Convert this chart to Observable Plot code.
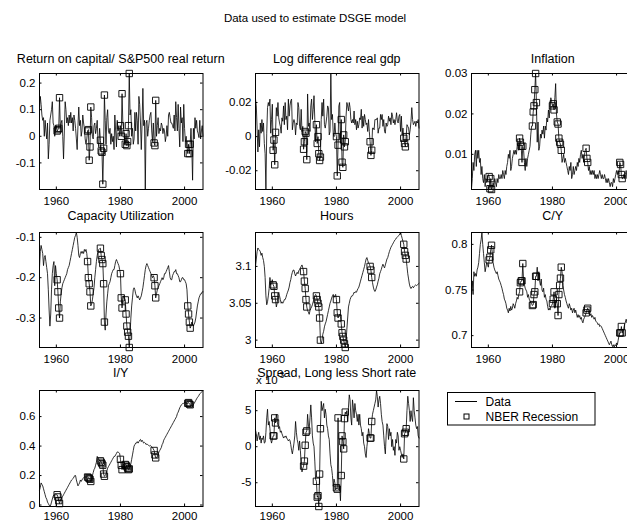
<!DOCTYPE html>
<html>
<head>
<meta charset="utf-8">
<script src="https://cdn.jsdelivr.net/npm/d3@7"></script>
<script src="https://cdn.jsdelivr.net/npm/@observablehq/plot@0.6"></script>
<style>
  html, body { margin: 0; padding: 0; background: #fff; }
  #fig { position: relative; width: 627px; height: 521px; overflow: hidden;
         font-family: "Liberation Sans", Arial, sans-serif; }
  #fig svg { position: absolute; }
</style>
</head>
<body>
<div id="fig"></div>
<script>
// Quarterly observations, first value is 1954Q4, last is 2005Q4.
const START = 1954.75;

// Return on capital / S&P500 real return
const ret = [
  0.10,
  0.15, 0.12, 0.08, 0.06,        // 1955
  0.07, 0.00, 0.06, 0.02,        // 1956
  -0.01, 0.05, -0.085, -0.03,    // 1957
  0.06, 0.08, 0.10, 0.13,        // 1958
  0.05, 0.04, 0.00, 0.02,        // 1959
  0.04, 0.02, 0.025, 0.03,       // 1960
  0.145, 0.03, 0.05, 0.06,       // 1961
  0.00, -0.085, 0.02, 0.13,      // 1962
  0.10, 0.05, 0.07, 0.04,        // 1963
  0.08, 0.05, 0.09, 0.05,        // 1964
  0.07, 0.02, 0.08, 0.06,        // 1965
  0.03, -0.01, -0.05, 0.04,      // 1966
  0.11, 0.04, 0.06, 0.00,        // 1967
  0.02, 0.08, 0.05, 0.03,        // 1968
  -0.01, -0.03, -0.01, 0.02,     // 1969
  0.025, -0.09, -0.04, 0.11,     // 1970
  0.07, 0.00, -0.01, 0.04,       // 1971
  0.05, 0.01, 0.03, 0.06,        // 1972
  -0.02, -0.04, 0.03, -0.015,    // 1973
  -0.055, -0.06, -0.18, -0.045,  // 1974
  0.155, 0.06, -0.03, 0.07,      // 1975
  0.10, 0.02, 0.01, 0.03,        // 1976
  -0.03, 0.01, -0.02, 0.00,      // 1977
  -0.05, 0.08, 0.02, -0.04,      // 1978
  0.06, 0.02, 0.04, 0.00,        // 1979
  0.04, 0.00, 0.16, 0.05,        // 1980
  0.03, 0.00, -0.03, 0.01,       // 1981
  -0.035, -0.02, 0.04, 0.236,    // 1982
  0.08, 0.10, 0.00, 0.03,        // 1983
  -0.03, -0.01, 0.09, 0.02,      // 1984
  0.09, 0.06, -0.03, 0.15,       // 1985
  0.12, 0.05, -0.05, 0.05,       // 1986
  0.18, 0.04, 0.06, -0.20,       // 1987
  0.05, 0.06, 0.00, 0.03,        // 1988
  0.06, 0.08, 0.09, 0.02,        // 1989
  -0.02, 0.05, -0.025, -0.035,   // 1990
  0.135, 0.00, 0.04, 0.07,       // 1991
  0.01, 0.03, 0.02, 0.05,        // 1992
  0.04, 0.01, 0.03, 0.02,        // 1993
  -0.02, 0.00, 0.04, 0.00,       // 1994
  0.08, 0.09, 0.07, 0.05,        // 1995
  0.05, 0.04, 0.03, 0.08,        // 1996
  0.02, 0.13, 0.07, 0.02,        // 1997
  0.12, 0.03, -0.04, 0.11,       // 1998
  0.05, 0.07, -0.02, 0.12,       // 1999
  0.03, -0.02, 0.00, -0.04,      // 2000
  -0.065, -0.03, -0.065, -0.03,  // 2001
  0.03, -0.04, -0.165, 0.03,     // 2002
  -0.01, 0.07, 0.03, 0.06,       // 2003
  0.02, 0.01, -0.005, 0.06,      // 2004
  -0.01, 0.02, 0.04, 0.00        // 2005
];

// Log difference of real GDP
const gdp = [
  0.022,
  0.018, 0.005, -0.009, 0.004,     // 1955
  -0.006, 0.008, 0.002, 0.010,     // 1956
  0.003, 0.008, -0.004, -0.010,    // 1957
  -0.031, 0.002, 0.017, 0.020,     // 1958
  0.018, 0.022, 0.002, 0.010,      // 1959
  0.019, -0.008, -0.002, -0.0165,  // 1960
  0.0025, 0.017, 0.012, 0.020,     // 1961
  0.011, 0.008, 0.006, 0.002,      // 1962
  0.011, 0.009, 0.018, 0.007,      // 1963
  0.020, 0.010, 0.012, 0.004,      // 1964
  0.022, 0.012, 0.018, 0.021,      // 1965
  0.022, 0.004, 0.008, 0.010,      // 1966
  0.008, 0.001, 0.008, 0.007,      // 1967
  0.020, 0.017, 0.006, 0.004,      // 1968
  0.016, 0.003, 0.006, -0.0074,    // 1969
  -0.003, 0.003, 0.002, -0.0135,   // 1970
  0.025, 0.006, 0.008, 0.003,      // 1971
  0.018, 0.022, 0.010, 0.016,      // 1972
  0.024, 0.010, -0.003, 0.007,     // 1973
  -0.004, 0.000, -0.010, -0.014,   // 1974
  -0.012, 0.010, 0.020, 0.012,     // 1975
  0.022, 0.007, 0.005, 0.008,      // 1976
  0.012, 0.018, 0.017, 0.001,      // 1977
  0.003, 0.037, 0.010, 0.013,      // 1978
  0.002, 0.000, 0.008, 0.002,      // 1979
  0.000, -0.023, -0.005, 0.018,    // 1980
  0.020, -0.004, 0.010, -0.015,    // 1981
  -0.018, 0.001, -0.006, -0.003,   // 1982
  0.012, 0.020, 0.018, 0.015,      // 1983
  0.020, 0.017, 0.010, 0.008,      // 1984
  0.010, 0.008, 0.015, 0.007,      // 1985
  0.010, 0.004, 0.009, 0.005,      // 1986
  0.007, 0.011, 0.010, 0.016,      // 1987
  0.005, 0.012, 0.006, 0.013,      // 1988
  0.010, 0.007, 0.008, 0.003,      // 1989
  0.010, 0.003, -0.003, -0.011,    // 1990
  -0.008, 0.005, 0.005, 0.004,     // 1991
  0.010, 0.010, 0.010, 0.011,      // 1992
  0.002, 0.005, 0.005, 0.013,      // 1993
  0.010, 0.013, 0.006, 0.010,      // 1994
  0.003, 0.002, 0.008, 0.006,      // 1995
  0.007, 0.012, 0.009, 0.011,      // 1996
  0.007, 0.014, 0.012, 0.008,      // 1997
  0.010, 0.007, 0.010, 0.014,      // 1998
  0.009, 0.008, 0.012, 0.013,      // 1999
  0.003, 0.012, 0.001, 0.005,      // 2000
  -0.001, -0.004, -0.006, 0.000,   // 2001
  0.007, 0.006, 0.005, 0.001,      // 2002
  0.004, 0.009, 0.017, 0.010,      // 2003
  0.007, 0.008, 0.009, 0.006,      // 2004
  0.009, 0.008, 0.010, 0.005       // 2005
];

// Inflation (quarterly)
const infl = [
  0.0015,
  0.004, 0.008, 0.006, 0.010,      // 1955
  0.011, 0.007, 0.011, 0.009,      // 1956
  0.011, 0.008, 0.009, 0.005,      // 1957
  0.007, 0.004, 0.003, 0.005,      // 1958
  0.002, 0.004, 0.003, 0.004,      // 1959
  0.005, 0.0045, 0.0015, 0.004,    // 1960
  0.0013, 0.002, 0.003, 0.002,     // 1961
  0.004, 0.003, 0.002, 0.004,      // 1962
  0.003, 0.005, 0.004, 0.004,      // 1963
  0.005, 0.004, 0.006, 0.005,      // 1964
  0.004, 0.006, 0.005, 0.007,      // 1965
  0.008, 0.010, 0.009, 0.011,      // 1966
  0.006, 0.007, 0.009, 0.010,      // 1967
  0.011, 0.010, 0.011, 0.010,      // 1968
  0.012, 0.013, 0.011, 0.014,      // 1969
  0.013, 0.012, 0.008, 0.012,      // 1970
  0.011, 0.008, 0.006, 0.009,      // 1971
  0.007, 0.009, 0.010, 0.011,      // 1972
  0.012, 0.015, 0.017, 0.017,      // 1973
  0.0205, 0.022, 0.026, 0.030,     // 1974
  0.0228, 0.013, 0.018, 0.011,     // 1975
  0.012, 0.015, 0.014, 0.016,      // 1976
  0.015, 0.017, 0.014, 0.017,      // 1977
  0.016, 0.019, 0.018, 0.021,      // 1978
  0.019, 0.022, 0.024, 0.023,      // 1979
  0.022, 0.0225, 0.021, 0.024,     // 1980
  0.0275, 0.020, 0.018, 0.0175,    // 1981
  0.014, 0.013, 0.0125, 0.011,     // 1982
  0.008, 0.009, 0.010, 0.008,      // 1983
  0.009, 0.008, 0.007, 0.006,      // 1984
  0.005, 0.007, 0.006, 0.008,      // 1985
  0.004, 0.005, 0.007, 0.005,      // 1986
  0.006, 0.007, 0.006, 0.008,      // 1987
  0.007, 0.009, 0.008, 0.010,      // 1988
  0.011, 0.009, 0.010, 0.008,      // 1989
  0.010, 0.011, 0.0115, 0.009,     // 1990
  0.008, 0.006, 0.007, 0.005,      // 1991
  0.006, 0.005, 0.006, 0.005,      // 1992
  0.006, 0.004, 0.005, 0.004,      // 1993
  0.005, 0.004, 0.005, 0.006,      // 1994
  0.005, 0.004, 0.005, 0.004,      // 1995
  0.004, 0.005, 0.004, 0.003,      // 1996
  0.004, 0.003, 0.004, 0.003,      // 1997
  0.002, 0.003, 0.003, 0.002,      // 1998
  0.004, 0.003, 0.004, 0.005,      // 1999
  0.006, 0.005, 0.006, 0.005,      // 2000
  0.008, 0.0075, 0.005, 0.004,     // 2001
  0.004, 0.005, 0.004, 0.005,      // 2002
  0.006, 0.004, 0.005, 0.004,      // 2003
  0.006, 0.007, 0.005, 0.006,      // 2004
  0.007, 0.006, 0.008, 0.005       // 2005
];

// Capacity utilization (log)
const capu = [
  -0.175,
  -0.135, -0.12, -0.13, -0.14,     // 1955
  -0.17, -0.15, -0.145, -0.16,     // 1956
  -0.175, -0.19, -0.23, -0.28,     // 1957
  -0.32, -0.29, -0.23, -0.19,      // 1958
  -0.17, -0.16, -0.22, -0.17,      // 1959
  -0.19, -0.205, -0.235, -0.275,   // 1960
  -0.30, -0.26, -0.24, -0.225,     // 1961
  -0.215, -0.21, -0.205, -0.20,    // 1962
  -0.195, -0.19, -0.18, -0.175,    // 1963
  -0.17, -0.16, -0.15, -0.14,      // 1964
  -0.13, -0.12, -0.11, -0.10,      // 1965
  -0.095, -0.088, -0.10, -0.12,    // 1966
  -0.145, -0.15, -0.14, -0.135,    // 1967
  -0.14, -0.135, -0.14, -0.13,     // 1968
  -0.135, -0.13, -0.14, -0.16,     // 1969
  -0.20, -0.215, -0.235, -0.27,    // 1970
  -0.265, -0.255, -0.24, -0.225,   // 1971
  -0.20, -0.18, -0.16, -0.145,     // 1972
  -0.135, -0.13, -0.128, -0.127,   // 1973
  -0.145, -0.155, -0.165, -0.215,  // 1974
  -0.31, -0.33, -0.29, -0.26,      // 1975
  -0.24, -0.22, -0.215, -0.21,     // 1976
  -0.20, -0.19, -0.185, -0.18,     // 1977
  -0.18, -0.17, -0.16, -0.155,     // 1978
  -0.16, -0.165, -0.17, -0.18,     // 1979
  -0.19, -0.25, -0.275, -0.255,    // 1980
  -0.245, -0.25, -0.255, -0.29,    // 1981
  -0.32, -0.335, -0.345, -0.373,   // 1982
  -0.34, -0.30, -0.27, -0.25,      // 1983
  -0.23, -0.225, -0.23, -0.24,     // 1984
  -0.245, -0.25, -0.245, -0.25,    // 1985
  -0.255, -0.25, -0.245, -0.235,   // 1986
  -0.225, -0.21, -0.195, -0.18,    // 1987
  -0.17, -0.165, -0.17, -0.175,    // 1988
  -0.18, -0.185, -0.19, -0.195,    // 1989
  -0.20, -0.195, -0.20, -0.22,     // 1990
  -0.25, -0.24, -0.23, -0.225,     // 1991
  -0.22, -0.215, -0.21, -0.205,    // 1992
  -0.20, -0.205, -0.20, -0.19,     // 1993
  -0.19, -0.185, -0.18, -0.175,    // 1994
  -0.17, -0.185, -0.20, -0.205,    // 1995
  -0.205, -0.195, -0.19, -0.185,   // 1996
  -0.185, -0.18, -0.19, -0.19,     // 1997
  -0.195, -0.20, -0.21, -0.21,     // 1998
  -0.205, -0.20, -0.20, -0.205,    // 1999
  -0.205, -0.21, -0.215, -0.23,    // 2000
  -0.27, -0.29, -0.31, -0.325,     // 2001
  -0.32, -0.31, -0.315, -0.32,     // 2002
  -0.315, -0.31, -0.30, -0.285,    // 2003
  -0.27, -0.26, -0.25, -0.245,     // 2004
  -0.24, -0.24, -0.235, -0.235     // 2005
];

// Hours (log)
const hours = [
  3.100,
  3.110, 3.120, 3.125, 3.123,      // 1955
  3.122, 3.120, 3.115, 3.118,      // 1956
  3.112, 3.108, 3.100, 3.085,      // 1957
  3.060, 3.048, 3.052, 3.060,      // 1958
  3.070, 3.085, 3.075, 3.078,      // 1959
  3.082, 3.075, 3.073, 3.060,      // 1960
  3.055, 3.045, 3.050, 3.058,      // 1961
  3.065, 3.060, 3.055, 3.050,      // 1962
  3.052, 3.050, 3.052, 3.055,      // 1963
  3.055, 3.058, 3.062, 3.065,      // 1964
  3.068, 3.072, 3.078, 3.082,      // 1965
  3.088, 3.092, 3.095, 3.095,      // 1966
  3.090, 3.087, 3.090, 3.092,      // 1967
  3.090, 3.094, 3.096, 3.098,      // 1968
  3.100, 3.102, 3.098, 3.093,      // 1969
  3.080, 3.070, 3.055, 3.045,      // 1970
  3.040, 3.038, 3.035, 3.040,      // 1971
  3.043, 3.045, 3.048, 3.052,      // 1972
  3.055, 3.060, 3.062, 3.060,      // 1973
  3.055, 3.050, 3.045, 3.030,      // 1974
  3.000, 2.995, 3.000, 3.008,      // 1975
  3.012, 3.018, 3.022, 3.025,      // 1976
  3.030, 3.035, 3.040, 3.045,      // 1977
  3.050, 3.053, 3.057, 3.060,      // 1978
  3.062, 3.058, 3.060, 3.062,      // 1979
  3.055, 3.037, 3.030, 3.033,      // 1980
  3.035, 3.032, 3.022, 3.010,      // 1981
  3.005, 3.000, 2.995, 2.990,      // 1982
  2.998, 3.015, 3.030, 3.045,      // 1983
  3.050, 3.055, 3.058, 3.060,      // 1984
  3.060, 3.062, 3.065, 3.064,      // 1985
  3.066, 3.065, 3.068, 3.070,      // 1986
  3.072, 3.076, 3.080, 3.084,      // 1987
  3.088, 3.092, 3.096, 3.100,      // 1988
  3.105, 3.110, 3.112, 3.108,      // 1989
  3.105, 3.103, 3.100, 3.095,      // 1990
  3.085, 3.078, 3.072, 3.068,      // 1991
  3.066, 3.068, 3.072, 3.075,      // 1992
  3.080, 3.084, 3.090, 3.093,      // 1993
  3.096, 3.100, 3.103, 3.100,      // 1994
  3.098, 3.102, 3.106, 3.110,      // 1995
  3.112, 3.116, 3.120, 3.123,      // 1996
  3.126, 3.128, 3.130, 3.132,      // 1997
  3.134, 3.136, 3.137, 3.139,      // 1998
  3.140, 3.141, 3.142, 3.144,      // 1999
  3.146, 3.142, 3.138, 3.134,      // 2000
  3.130, 3.120, 3.115, 3.110,      // 2001
  3.100, 3.090, 3.083, 3.076,      // 2002
  3.072, 3.070, 3.072, 3.073,      // 2003
  3.071, 3.073, 3.074, 3.075,      // 2004
  3.074, 3.075, 3.076, 3.077       // 2005
];

// Consumption / output
const cy = [
  0.745,
  0.760, 0.745, 0.770, 0.765,      // 1955
  0.768, 0.765, 0.772, 0.775,      // 1956
  0.780, 0.790, 0.800, 0.805,      // 1957
  0.813, 0.800, 0.790, 0.780,      // 1958
  0.770, 0.775, 0.780, 0.778,      // 1959
  0.775, 0.783, 0.786, 0.794,      // 1960
  0.799, 0.790, 0.780, 0.775,      // 1961
  0.772, 0.770, 0.768, 0.770,      // 1962
  0.766, 0.762, 0.760, 0.758,      // 1963
  0.755, 0.752, 0.748, 0.745,      // 1964
  0.740, 0.738, 0.735, 0.730,      // 1965
  0.728, 0.725, 0.730, 0.727,      // 1966
  0.732, 0.728, 0.730, 0.735,      // 1967
  0.733, 0.730, 0.735, 0.738,      // 1968
  0.742, 0.740, 0.745, 0.748,      // 1969
  0.758, 0.760, 0.760, 0.779,      // 1970
  0.760, 0.756, 0.752, 0.750,      // 1971
  0.748, 0.742, 0.745, 0.740,      // 1972
  0.738, 0.736, 0.735, 0.733,      // 1973
  0.734, 0.745, 0.748, 0.765,      // 1974
  0.765, 0.775, 0.760, 0.770,      // 1975
  0.760, 0.755, 0.762, 0.750,      // 1976
  0.748, 0.752, 0.742, 0.745,      // 1977
  0.740, 0.738, 0.732, 0.728,      // 1978
  0.730, 0.728, 0.732, 0.733,      // 1979
  0.735, 0.740, 0.748, 0.730,      // 1980
  0.735, 0.740, 0.735, 0.722,      // 1981
  0.745, 0.755, 0.763, 0.775,      // 1982
  0.770, 0.755, 0.750, 0.745,      // 1983
  0.742, 0.738, 0.735, 0.732,      // 1984
  0.730, 0.735, 0.732, 0.728,      // 1985
  0.730, 0.725, 0.728, 0.730,      // 1986
  0.725, 0.728, 0.724, 0.720,      // 1987
  0.723, 0.720, 0.722, 0.718,      // 1988
  0.720, 0.716, 0.714, 0.718,      // 1989
  0.720, 0.722, 0.725, 0.728,      // 1990
  0.730, 0.726, 0.724, 0.722,      // 1991
  0.724, 0.720, 0.722, 0.720,      // 1992
  0.718, 0.720, 0.716, 0.715,      // 1993
  0.714, 0.712, 0.713, 0.710,      // 1994
  0.711, 0.710, 0.708, 0.706,      // 1995
  0.704, 0.702, 0.700, 0.698,      // 1996
  0.696, 0.694, 0.692, 0.690,      // 1997
  0.692, 0.694, 0.690, 0.688,      // 1998
  0.690, 0.687, 0.690, 0.689,      // 1999
  0.692, 0.690, 0.695, 0.700,      // 2000
  0.703, 0.703, 0.710, 0.703,      // 2001
  0.706, 0.708, 0.712, 0.715,      // 2002
  0.718, 0.714, 0.716, 0.720,      // 2003
  0.722, 0.720, 0.724, 0.726,      // 2004
  0.725, 0.728, 0.726, 0.730       // 2005
];

// Investment / output
const iy = [
  0.10,
  0.12, 0.15, 0.14, 0.13,          // 1955
  0.11, 0.09, 0.07, 0.05,          // 1956
  0.04, 0.02, 0.01, 0.00,          // 1957
  -0.01, 0.00, 0.02, 0.04,         // 1958
  0.06, 0.07, 0.065, 0.07,         // 1959
  0.07, 0.07, 0.055, 0.03,         // 1960
  0.01, 0.03, 0.04, 0.05,          // 1961
  0.06, 0.07, 0.08, 0.09,          // 1962
  0.10, 0.11, 0.12, 0.13,          // 1963
  0.14, 0.15, 0.16, 0.17,          // 1964
  0.175, 0.18, 0.19, 0.20,         // 1965
  0.20, 0.17, 0.15, 0.13,          // 1966
  0.14, 0.15, 0.17, 0.16,          // 1967
  0.17, 0.18, 0.185, 0.19,         // 1968
  0.19, 0.19, 0.19, 0.19,          // 1969
  0.185, 0.18, 0.175, 0.16,        // 1970
  0.17, 0.20, 0.22, 0.24,          // 1971
  0.25, 0.27, 0.29, 0.33,          // 1972
  0.32, 0.31, 0.30, 0.30,          // 1973
  0.29, 0.28, 0.27, 0.21,          // 1974
  0.195, 0.20, 0.21, 0.23,         // 1975
  0.25, 0.26, 0.27, 0.28,          // 1976
  0.29, 0.30, 0.31, 0.32,          // 1977
  0.33, 0.33, 0.34, 0.35,          // 1978
  0.36, 0.36, 0.355, 0.35,         // 1979
  0.31, 0.27, 0.24, 0.26,          // 1980
  0.28, 0.28, 0.275, 0.27,         // 1981
  0.26, 0.25, 0.24, 0.245,         // 1982
  0.26, 0.28, 0.31, 0.34,          // 1983
  0.37, 0.40, 0.41, 0.42,          // 1984
  0.42, 0.43, 0.42, 0.43,          // 1985
  0.44, 0.445, 0.43, 0.44,         // 1986
  0.43, 0.42, 0.425, 0.42,         // 1987
  0.41, 0.415, 0.41, 0.405,        // 1988
  0.40, 0.405, 0.40, 0.395,        // 1989
  0.39, 0.38, 0.37, 0.34,          // 1990
  0.32, 0.32, 0.33, 0.34,          // 1991
  0.36, 0.37, 0.38, 0.39,          // 1992
  0.41, 0.42, 0.44, 0.45,          // 1993
  0.46, 0.47, 0.48, 0.49,          // 1994
  0.50, 0.51, 0.52, 0.53,          // 1995
  0.54, 0.55, 0.56, 0.57,          // 1996
  0.58, 0.59, 0.60, 0.62,          // 1997
  0.63, 0.645, 0.66, 0.67,         // 1998
  0.68, 0.685, 0.69, 0.69,         // 1999
  0.695, 0.70, 0.69, 0.69,         // 2000
  0.69, 0.695, 0.685, 0.68,        // 2001
  0.675, 0.67, 0.67, 0.68,         // 2002
  0.69, 0.70, 0.71, 0.72,          // 2003
  0.73, 0.735, 0.745, 0.755,       // 2004
  0.76, 0.765, 0.77, 0.777         // 2005
];

// Spread, long less short rate (units of 10^-3)
const spread = [
  2.3,
  1.8, 0.8, 1.5, 2.0,              // 1955
  1.0, 1.5, 0.5, 1.2,              // 1956
  1.0, 1.5, 0.5, 0.6,              // 1957
  2.0, 4.0, 5.2, 3.0,              // 1958
  3.5, 2.5, 1.0, 0.5,              // 1959
  1.0, 1.5, 1.5, 4.0,              // 1960
  3.3, 4.5, 3.5, 3.0,              // 1961
  2.5, 2.8, 2.0, 2.2,              // 1962
  1.8, 1.5, 1.2, 1.4,              // 1963
  1.3, 1.5, 1.2, 1.0,              // 1964
  0.8, 1.0, 0.9, 0.3,              // 1965
  -0.5, -1.0, -0.3, 0.5,           // 1966
  1.5, 3.5, 2.0, 1.0,              // 1967
  0.5, -0.5, 0.8, -0.5,            // 1968
  -2.5, -3.5, -3.0, -2.7,          // 1969
  -2.0, 0.2, 2.0, 2.2,             // 1970
  4.5, 3.0, 2.5, 4.0,              // 1971
  5.8, 4.0, 1.5, 0.5,              // 1972
  0.0, -2.0, -4.5, -4.8,           // 1973
  -7.0, -6.8, -8.3, -3.8,          // 1974
  2.5, 6.3, 5.0, 5.5,              // 1975
  6.0, 4.0, 5.2, 4.5,              // 1976
  3.0, 2.5, 1.5, 1.0,              // 1977
  -1.0, -2.5, -3.0, -4.0,          // 1978
  -5.5, -4.5, -5.0, -6.0,          // 1979
  -5.7, -5.9, 4.0, -6.0,           // 1980
  -5.5, -7.5, -4.0, 1.5,           // 1981
  0.7, -0.3, 3.9, 4.8,             // 1982
  4.5, 5.0, 3.5, 5.5,              // 1983
  7.2, 6.5, 4.0, 3.0,              // 1984
  6.5, 5.5, 4.0, 6.0,              // 1985
  5.0, 4.5, 3.5, 4.5,              // 1986
  3.0, 4.5, 3.0, 2.5,              // 1987
  1.5, 2.0, 0.5, 0.0,              // 1988
  -1.0, -1.5, 0.0, 1.0,            // 1989
  2.5, 1.8, 1.2, 1.2,              // 1990
  3.5, 4.5, 5.0, 5.5,              // 1991
  6.0, 6.5, 7.8, 7.0,              // 1992
  5.5, 6.5, 7.0, 6.0,              // 1993
  4.5, 3.5, 3.0, 1.5,              // 1994
  0.0, -1.0, 1.5, 3.2,             // 1995
  2.8, 1.0, 2.5, 1.5,              // 1996
  2.0, 0.0, 1.0, -0.5,             // 1997
  0.0, -1.2, 1.0, 0.5,             // 1998
  2.0, 1.5, -0.5, 0.0,             // 1999
  -0.5, -1.0, -1.5, -1.0,          // 2000
  -1.7, 1.8, 2.0, 2.5,             // 2001
  5.0, 7.0, 6.0, 5.0,              // 2002
  3.5, 5.0, 4.0, 3.5,              // 2003
  6.8, 5.0, 4.0, 3.0,              // 2004
  2.5, 2.8, 1.5, 1.2               // 2005
];

// NBER recessions, first and last quarter of each
const recessions = [
  [1960.25, 1961.0], [1969.75, 1970.75], [1973.75, 1975.0],
  [1980.0, 1980.5], [1981.5, 1982.75], [1990.5, 1991.0], [2001.0, 2001.75]
];

const yearTicks = [1960, 1980, 2000];

const panels = [
  {title: "Return on capital/ S&P500 real return", values: ret, ticks: [-0.1, 0, 0.1, 0.2], row: 0, col: 0},
  {title: "Log difference real gdp", values: gdp, ticks: [-0.02, 0, 0.02], row: 0, col: 1},
  {title: "Inflation", values: infl, ticks: [0.01, 0.02, 0.03], row: 0, col: 2},
  {title: "Capacity Utilization", values: capu, ticks: [-0.3, -0.2, -0.1], row: 1, col: 0},
  {title: "Hours", values: hours, ticks: [3, 3.05, 3.1], row: 1, col: 1},
  {title: "C/Y", values: cy, ticks: [0.7, 0.75, 0.8], row: 1, col: 2},
  {title: "I/Y", values: iy, ticks: [0, 0.2, 0.4, 0.6], row: 2, col: 0},
  {title: "Spread, Long less Short rate", values: spread, ticks: [-5, 0, 5], row: 2, col: 1}
];

// Grid geometry of the axes boxes
const FONT = "Liberation Sans, Arial, sans-serif";
const colLeft = [39, 255, 471];
const rowTop = [73, 232, 390];
const rowH = [116, 115, 116];
const titleBase = [63, 219.5, 377];
const labelPad = [7, 7, 5.5];
const PW = 163.5;
const ML = 44, MR = 6, MT = 6, MB = 24;
const TICK = 2.5;

const fmt = d => String(+d.toFixed(6));
const inRecession = t => recessions.some(([a, b]) => t >= a - 1e-6 && t <= b + 1e-6);

const fig = d3.select("#fig");

// Text layer: main title, panel titles, exponent label and legend
const bg = fig.append("svg")
  .attr("width", 627).attr("height", 521)
  .style("left", "0px").style("top", "0px")
  .attr("font-family", FONT);

bg.append("text")
  .attr("x", 315).attr("y", 22).attr("text-anchor", "middle")
  .attr("font-size", 11.5).text("Data used to estimate DSGE model");

panels.forEach(p => {
  bg.append("text")
    .attr("x", colLeft[p.col] + PW / 2).attr("y", titleBase[p.row])
    .attr("text-anchor", "middle").attr("font-size", 12.5)
    .text(p.title);
});

// multiplier for the spread panel
const ex = bg.append("text").attr("x", 256).attr("y", 384).attr("font-size", 11.5);
ex.append("tspan").text("x 10");
ex.append("tspan").attr("dx", -1).attr("dy", -6).attr("font-size", 8.5).text("-3");

// legend
const lg = bg.append("g");
lg.append("rect").attr("x", 447.5).attr("y", 392.5).attr("width", 147.5).attr("height", 32.5)
  .attr("fill", "#fff").attr("stroke", "#000");
lg.append("line").attr("x1", 455).attr("x2", 477).attr("y1", 401.5).attr("y2", 401.5)
  .attr("stroke", "#000");
lg.append("rect").attr("x", 464).attr("y", 414).attr("width", 5).attr("height", 5)
  .attr("fill", "none").attr("stroke", "#000");
lg.append("text").attr("x", 485.5).attr("y", 406).attr("font-size", 12).text("Data");
lg.append("text").attr("x", 485.5).attr("y", 421).attr("font-size", 12).text("NBER Recession");

// One Plot per panel, each with its own y scale
panels.forEach(p => {
  const ph = rowH[p.row];
  const data = p.values.map((v, i) => ({t: START + i / 4, v}));
  const rec = data.filter(d => inRecession(d.t));
  const svg = Plot.plot({
    width: ML + PW + MR,
    height: MT + ph + MB,
    marginLeft: ML, marginRight: MR, marginTop: MT, marginBottom: MB,
    style: {fontFamily: FONT, fontSize: "11.5px", background: "transparent", color: "#000", overflow: "visible"},
    x: {domain: [START, START + (p.values.length - 1) / 4], label: null},
    y: {domain: d3.extent(p.values), label: null},
    marks: [
      Plot.line(data, {x: "t", y: "v", stroke: "#000", strokeWidth: 0.8}),
      Plot.dot(rec, {x: "t", y: "v", symbol: "square", r: 3.6, stroke: "#000", fill: "none", strokeWidth: 0.9}),
      Plot.tickX(yearTicks, {x: d => d, insetTop: ph - TICK, stroke: "#000"}),
      Plot.tickX(yearTicks, {x: d => d, insetBottom: ph - TICK, stroke: "#000"}),
      Plot.tickY(p.ticks, {y: d => d, insetRight: PW - TICK, stroke: "#000"}),
      Plot.tickY(p.ticks, {y: d => d, insetLeft: PW - TICK, stroke: "#000"}),
      Plot.frame({stroke: "#000", strokeWidth: 1}),
      Plot.axisX({ticks: yearTicks, tickSize: 0, tickPadding: labelPad[p.row], tickFormat: "d", label: null}),
      Plot.axisY({ticks: p.ticks, tickSize: 0, tickPadding: 4, tickFormat: fmt, label: null})
    ]
  });
  svg.style.position = "absolute";
  svg.style.left = (colLeft[p.col] - ML) + "px";
  svg.style.top = (rowTop[p.row] - MT) + "px";
  fig.node().appendChild(svg);
});
</script>
</body>
</html>
